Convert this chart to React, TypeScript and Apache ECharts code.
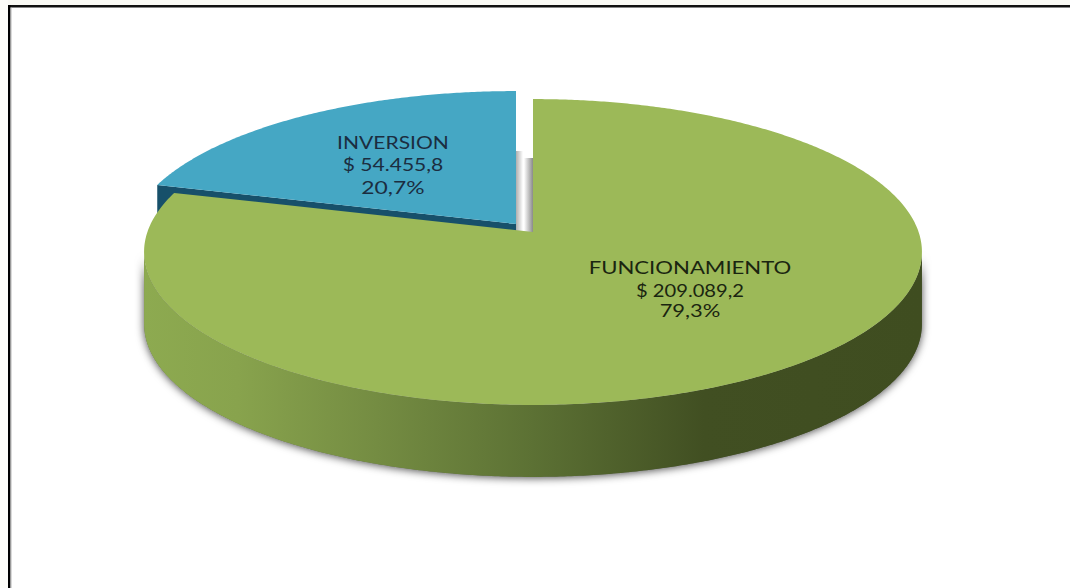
import React, { useEffect, useRef } from "react";
import * as echarts from "echarts";

const categories = ["INVERSION", "FUNCIONAMIENTO"];
const amounts = [54455.8, 209089.2];
const amountLabels = ["$ 54.455,8", "$ 209.089,2"];
const shareLabels = ["20,7%", "79,3%"];

const total = amounts[0] + amounts[1];
const CX = 533, R = 385.6, DEPTH = 72;
const PC = 0.1307, PA = -120, PB = 232;

function project(deg: number, ox: number, oy: number, dz: number): number[] {
  const t = (deg * Math.PI) / 180;
  const u = Math.sin(t), v = Math.cos(t);
  const w = 1 + PC * v;
  return [CX + (R * u) / w + ox, (PA * v + PB) / w + oy + dz];
}
function arc(a: number, b: number, ox: number, oy: number, dz: number): number[][] {
  const n = Math.max(2, Math.ceil(Math.abs(b - a) * 2));
  const pts: number[][] = [];
  for (let i = 0; i <= n; i++) pts.push(project(a + ((b - a) * i) / n, ox, oy, dz));
  return pts;
}
function apex(ox: number, oy: number, dz: number): number[] {
  return [CX + ox, PB + oy + dz];
}

const labelStyles = [
  { x: 393, ys: [142, 164, 187], fill: "#1b2d40", scaleX: [1.17, 1.17, 1.27], fs: 18 },
  { x: 690, ys: [267, 290, 310], fill: "#1a2510", scaleX: [1.23, 1.12, 1.22], fs: 18 },
];

function renderSlice(params: any, api: any) {
  const i = params.dataIndex;
  const value = api.value(1);
  const sweep = (value / total) * 360;
  const children: any[] = [];
  if (i === 0) {
    const ox = -17, oy = -8;
    const start = 360 - sweep;
    const p = project(start, ox, oy, 0);
    const a = apex(ox, oy, 0);
    children.push({
      type: "polygon",
      shape: { points: [p, a, apex(ox, oy, DEPTH), project(start, ox, oy, DEPTH)] },
      style: { fill: "#17506a" },
    });
    children.push({
      type: "polygon",
      shape: { points: [a, ...arc(start, 360, ox, oy, 0)] },
      style: { fill: "#45a7c4" },
    });
  } else {
    const left = 262.5, right = 97.5;
    const sidePoints = [...arc(right, left, 0, 0, 0), ...arc(left, right, 0, 0, DEPTH)];
    children.push({
      type: "polygon",
      shape: { points: sidePoints },
      style: {
        fill: "#666666",
        shadowBlur: 8,
        shadowColor: "rgba(0,0,0,0.7)",
        shadowOffsetX: 0,
        shadowOffsetY: 1,
      },
    });
    children.push({
      type: "polygon",
      shape: { points: sidePoints },
      style: {
        fill: new echarts.graphic.LinearGradient(0, 0, 1, 0, [
          { offset: 0, color: "#8daa50" },
          { offset: 0.12, color: "#88a34d" },
          { offset: 0.3, color: "#748c42" },
          { offset: 0.5, color: "#5c7134" },
          { offset: 0.72, color: "#414f22" },
          { offset: 1, color: "#3f4d20" },
        ]),
      },
    });
    children.push({
      type: "polygon",
      shape: { points: [apex(0, 0, 0), ...arc(0, sweep, 0, 0, 0)] },
      style: { fill: "#9cb958" },
    });
  }
  const ls = labelStyles[i];
  const lines = [categories[i], amountLabels[i], shareLabels[i]];
  lines.forEach((text, k) => {
    children.push({
      type: "text",
      x: ls.x,
      y: ls.ys[k],
      scaleX: ls.scaleX[k],
      style: {
        text,
        fill: ls.fill,
        font: `${ls.fs}px Lato`,
        align: "center",
        verticalAlign: "middle",
      },
    });
  });
  return { type: "group", children };
}

export default function App() {
  const ref = useRef<HTMLDivElement>(null);
  useEffect(() => {
    const chart = echarts.init(ref.current!, null, { renderer: "svg" });
    chart.setOption({
      animation: false,
      backgroundColor: "#ffffff",
      graphic: [
        { type: "rect", shape: { x: 0, y: 0, width: 1070, height: 5 }, style: { fill: "#fafaf5" } },
        { type: "rect", shape: { x: 0, y: 0, width: 8, height: 588 }, style: { fill: "#fdfdf9" } },
        { type: "rect", shape: { x: 8, y: 5, width: 1062, height: 2.5 }, style: { fill: "#111111" } },
        { type: "rect", shape: { x: 8, y: 5, width: 2.5, height: 583 }, style: { fill: "#000000" } },
        { type: "rect", shape: { x: 10.5, y: 7.5, width: 1, height: 580.5 }, style: { fill: "#b5b5b5" } },
        {
          type: "rect",
          shape: { x: 515, y: 151, width: 8, height: 80 },
          style: {
            fill: new echarts.graphic.LinearGradient(0, 0, 1, 0, [
              { offset: 0, color: "#a3a3a3" },
              { offset: 1, color: "#ffffff" },
            ]),
          },
        },
        {
          type: "rect",
          shape: { x: 524, y: 158, width: 9, height: 74 },
          style: {
            fill: new echarts.graphic.LinearGradient(0, 0, 1, 0, [
              { offset: 0, color: "#ffffff" },
              { offset: 1, color: "#8a8a8a" },
            ]),
          },
        },
      ],
      series: [
        {
          type: "custom",
          coordinateSystem: "none",
          silent: true,
          encode: { value: 1 },
          data: categories.map((c, i) => [c, amounts[i]]),
          renderItem: renderSlice,
        },
      ],
    });
    return () => chart.dispose();
  }, []);
  return <div ref={ref} style={{ position: "fixed", left: 0, top: 0, width: 1070, height: 588 }} />;
}
